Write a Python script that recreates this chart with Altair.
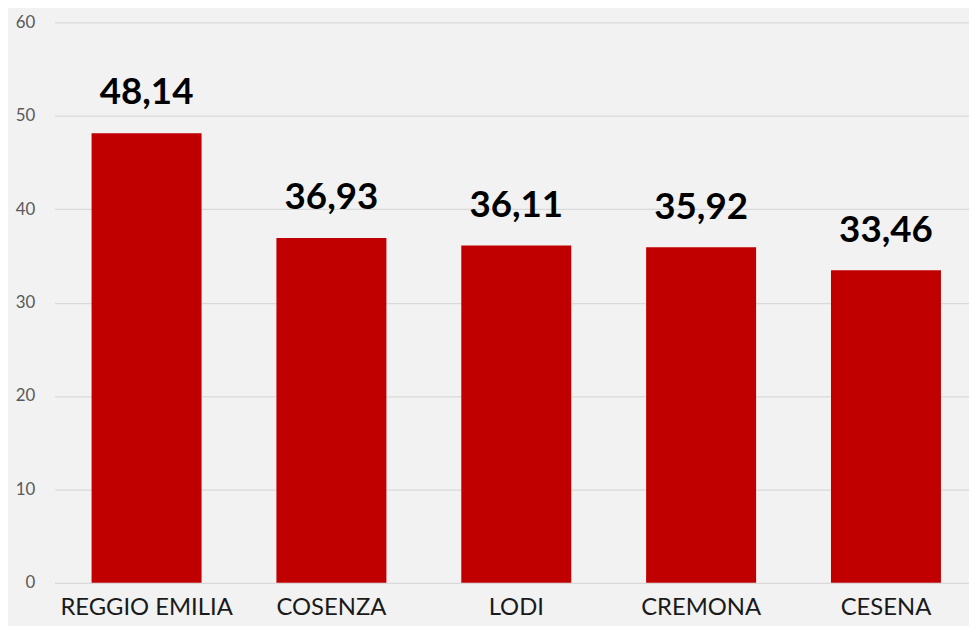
import altair as alt
import pandas as pd

cities = ["REGGIO EMILIA", "COSENZA", "LODI", "CREMONA", "CESENA"]
values = [48.14, 36.93, 36.11, 35.92, 33.46]
labels = [f"{v:.2f}".replace(".", ",") for v in values]

df = pd.DataFrame({"city": cities, "value": values, "label": labels})

FONT = "Lato"

x = alt.X("city:N", sort=cities, title=None,
          scale=alt.Scale(range=[0, 931], paddingInner=0.405, paddingOuter=0.2),
          axis=alt.Axis(labelAngle=0, labelFontSize=24, labelColor="#1a1a1a",
                        labelFont=FONT, labelPadding=13, ticks=False, domain=False,
                        grid=False))
y = alt.Y("value:Q", title=None,
          scale=alt.Scale(domain=[0, 60], nice=False),
          axis=alt.Axis(values=[0, 10, 20, 30, 40, 50, 60], labelFontSize=17,
                        labelColor="#595959", labelFont=FONT, labelPadding=20,
                        ticks=False, domain=False, gridColor="#D9D9D9",
                        gridWidth=1.3))

bars = alt.Chart(df).mark_bar(color="#C00000").encode(x=x, y=y)
text = alt.Chart(df).mark_text(fontSize=37, fontWeight="bold", font=FONT,
                               color="#000000", baseline="alphabetic", dy=-29).encode(
    x=alt.X("city:N", sort=cities), y="value:Q", text="label:N")

chart = (bars + text).properties(
    width=922, height=565, background="#F2F2F2",
    autosize=alt.AutoSizeParams(type="none"),
    padding={"left": 47, "top": 12, "right": 0, "bottom": 41},
).configure_view(stroke=None)

chart.save("out.html", embed_options={"renderer": "svg", "actions": False})
